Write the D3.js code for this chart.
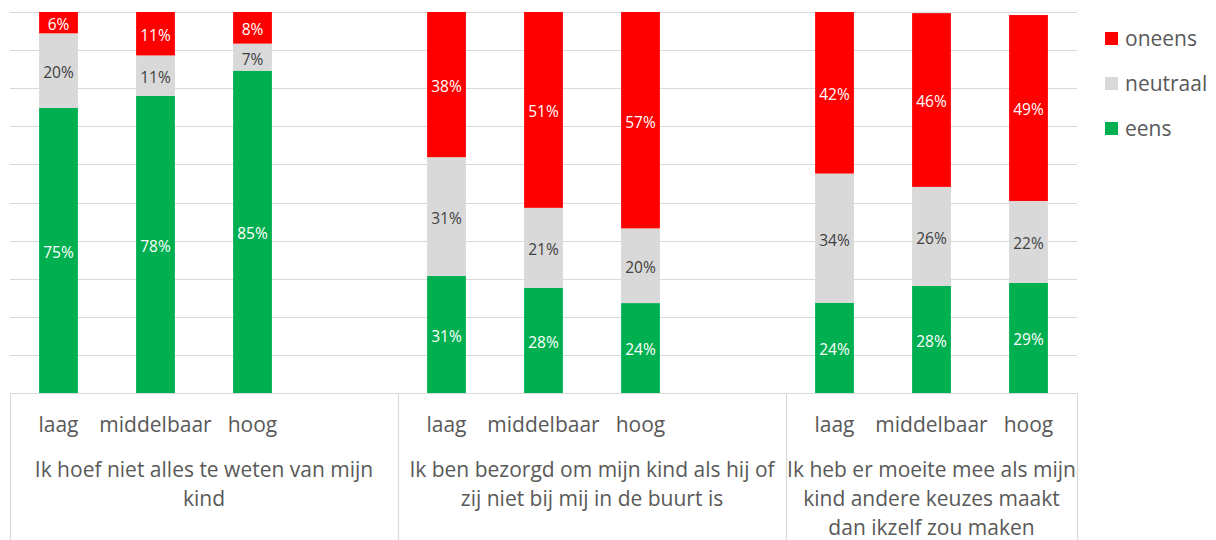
<!DOCTYPE html>
<html>
<head>
<meta charset="utf-8">
<script src="https://cdn.jsdelivr.net/npm/d3@7"></script>
<style>
  body { margin: 0; background: #fff; }
  svg { display: block; font-family: "Open Sans", sans-serif; }
</style>
</head>
<body>
<div id="chart"></div>
<script>
// data (percent per segment)
var groups = [
  "Ik hoef niet alles te weten van mijn kind",
  "Ik ben bezorgd om mijn kind als hij of zij niet bij mij in de buurt is",
  "Ik heb er moeite mee als mijn kind andere keuzes maakt dan ikzelf zou maken"
];
var groupLines = [
  ["Ik hoef niet alles te weten van mijn", "kind"],
  ["Ik ben bezorgd om mijn kind als hij of", "zij niet bij mij in de buurt is"],
  ["Ik heb er moeite mee als mijn", "kind andere keuzes maakt", "dan ikzelf zou maken"]
];
var levels = ["laag", "middelbaar", "hoog"];
var seriesKeys = ["eens", "neutraal", "oneens"];
var legendOrder = ["oneens", "neutraal", "eens"];

// one value per group x level
var eens     = [[74.8, 78.0, 84.6], [30.7, 27.6, 23.6], [23.7, 28.1, 28.9]];
var neutraal = [[19.6, 10.6, 7.1],  [31.2, 21.0, 19.6], [33.9, 26.0, 21.5]];
var oneens   = [[5.6, 11.4, 8.3],   [38.1, 51.4, 56.8], [42.4, 45.6, 48.8]];

var colors = { eens: "#00B050", neutraal: "#D9D9D9", oneens: "#FF0000" };
var labelColors = { eens: "#ffffff", neutraal: "#404040", oneens: "#ffffff" };

var width = 1216, height = 540;
var svg = d3.select("#chart").append("svg")
  .attr("width", width).attr("height", height);

// rows, plus spacer slots between the groups
var rows = [];
var slots = [];
groups.forEach(function(g, gi) {
  levels.forEach(function(l, li) {
    var key = gi + "|" + l;
    slots.push(key);
    rows.push({ key: key, group: gi, level: l,
      eens: eens[gi][li], neutraal: neutraal[gi][li], oneens: oneens[gi][li] });
  });
  if (gi < groups.length - 1) slots.push("gap" + gi);
});

var plotLeft = 10, plotRight = 1077, plotTop = 12, plotBottom = 393;

var x = d3.scaleBand().domain(slots).range([plotLeft, plotRight])
  .paddingInner(0.6).paddingOuter(0.3);
var step = x.step();
var y = d3.scaleLinear().domain([0, 100]).range([plotBottom, plotTop]).clamp(true);

// gridlines
svg.append("g").selectAll("line")
  .data(y.ticks(10))
  .enter().append("line")
  .attr("x1", plotLeft).attr("x2", plotRight)
  .attr("y1", function(d) { return Math.round(y(d)) + 0.5; })
  .attr("y2", function(d) { return Math.round(y(d)) + 0.5; })
  .attr("stroke", "#D9D9D9").attr("stroke-width", 1.2);

// stacked bars
var stacked = d3.stack().keys(seriesKeys)(rows);

var layer = svg.append("g").selectAll("g")
  .data(stacked)
  .enter().append("g")
  .attr("fill", function(d) { return colors[d.key]; });

layer.selectAll("rect")
  .data(function(d) { return d; })
  .enter().append("rect")
  .attr("x", function(d) { return x(d.data.key); })
  .attr("width", x.bandwidth())
  .attr("y", function(d) { return y(d[1]); })
  .attr("height", function(d) { return y(d[0]) - y(d[1]); });

// data labels
stacked.forEach(function(s) {
  svg.append("g").selectAll("text")
    .data(s)
    .enter().append("text")
    .attr("x", function(d) { return x(d.data.key) + x.bandwidth() / 2; })
    .attr("y", function(d) { return (y(d[0]) + y(d[1])) / 2 + 2; })
    .attr("dy", "0.35em")
    .attr("text-anchor", "middle")
    .attr("font-size", "15.5px")
    .attr("fill", labelColors[s.key])
    .text(function(d) { return Math.round(d[1] - d[0]) + "%"; });
});

// category axis: line, group separators, labels
var axis = svg.append("g");
axis.append("line")
  .attr("x1", plotLeft).attr("x2", plotRight)
  .attr("y1", plotBottom + 0.5).attr("y2", plotBottom + 0.5)
  .attr("stroke", "#D9D9D9").attr("stroke-width", 1.2);

var bounds = [plotLeft];
slots.forEach(function(k) {
  if (k.indexOf("gap") === 0) bounds.push(x(k) - step * x.paddingOuter() + step);
});
bounds.push(plotRight);

axis.selectAll("line.sep")
  .data(bounds)
  .enter().append("line")
  .attr("class", "sep")
  .attr("x1", function(d) { return Math.round(d) + 0.5; })
  .attr("x2", function(d) { return Math.round(d) + 0.5; })
  .attr("y1", plotBottom).attr("y2", height)
  .attr("stroke", "#D9D9D9").attr("stroke-width", 1.2);

axis.selectAll("text.level")
  .data(rows)
  .enter().append("text")
  .attr("class", "level")
  .attr("x", function(d) { return x(d.key) + x.bandwidth() / 2; })
  .attr("y", 425)
  .attr("dy", "0.35em")
  .attr("text-anchor", "middle")
  .attr("font-size", "21px")
  .attr("fill", "#595959")
  .text(function(d) { return d.level; });

groupLines.forEach(function(lines, gi) {
  var cx = (bounds[gi] + bounds[gi + 1]) / 2;
  var t = axis.append("text")
    .attr("text-anchor", "middle")
    .attr("font-size", "21px")
    .attr("fill", "#595959");
  t.selectAll("tspan")
    .data(lines)
    .enter().append("tspan")
    .attr("x", cx)
    .attr("y", function(d, i) { return 470 + i * 29; })
    .attr("dy", "0.35em")
    .text(function(d) { return d; });
});

// legend
var legend = svg.append("g").selectAll("g")
  .data(legendOrder)
  .enter().append("g")
  .attr("transform", function(d, i) { return "translate(1105," + (39 + i * 45) + ")"; });

legend.append("rect")
  .attr("x", 0).attr("y", -7)
  .attr("width", 13).attr("height", 13)
  .attr("fill", function(d) { return colors[d]; });

legend.append("text")
  .attr("x", 20).attr("y", 0)
  .attr("dy", "0.35em")
  .attr("font-size", "21px")
  .attr("fill", "#595959")
  .text(function(d) { return d; });
</script>
</body>
</html>
